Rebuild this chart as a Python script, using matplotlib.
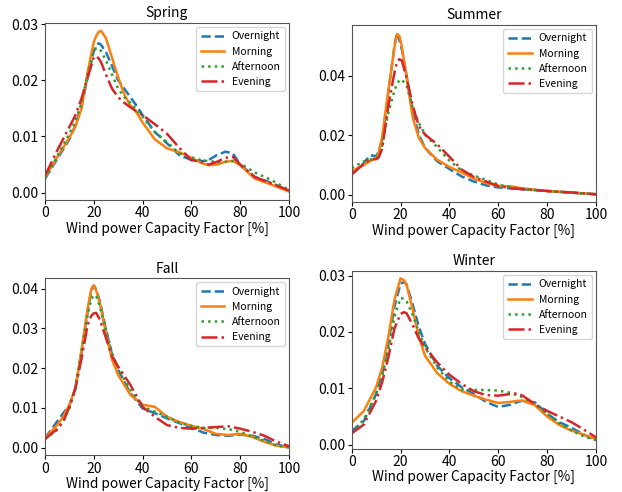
import matplotlib
matplotlib.use("Agg")
import matplotlib.pyplot as plt

plt.rcParams['font.family'] = ['Noto Sans CJK KR', 'DejaVu Sans']

# Densités par saison : facteur de capacité éolien (%) -> densité
labels = ["Overnight", "Morning", "Afternoon", "Evening"]

cf_spring = [0, 5, 10, 12.5, 15, 17.5, 20, 21, 22, 23, 25, 27.5, 30, 32.5, 35, 37.5,
             40, 45, 50, 55, 60, 64, 67, 70.5, 74, 77, 80, 86, 93, 100]
spring_overnight = [0.0025, 0.006, 0.0095, 0.012, 0.0155, 0.0205, 0.0252, 0.0261, 0.0266, 0.0263,
                    0.025, 0.0225, 0.020, 0.0185, 0.017, 0.0155, 0.0138, 0.0108, 0.0088, 0.0067,
                    0.0058, 0.0056, 0.0058, 0.0067, 0.0073, 0.007, 0.005, 0.0028, 0.0017, 0.0003]
spring_morning = [0.0027, 0.0063, 0.0098, 0.0118, 0.015, 0.0215, 0.0268, 0.0279, 0.0286, 0.0288,
                  0.0275, 0.024, 0.0205, 0.0175, 0.0155, 0.0143, 0.0125, 0.0095, 0.0079, 0.0072,
                  0.0062, 0.0053, 0.0049, 0.005, 0.0055, 0.0057, 0.0049, 0.0025, 0.0014, 0.0002]
spring_afternoon = [0.0025, 0.0065, 0.0105, 0.0128, 0.016, 0.021, 0.0252, 0.0257, 0.0257, 0.0252,
                    0.0235, 0.021, 0.0185, 0.017, 0.016, 0.0148, 0.0135, 0.0108, 0.009, 0.007,
                    0.0063, 0.0058, 0.0056, 0.0055, 0.0055, 0.0056, 0.0052, 0.0036, 0.0022, 0.0005]
spring_evening = [0.003, 0.0075, 0.0117, 0.0138, 0.0168, 0.0205, 0.0241, 0.0243, 0.0239, 0.0232,
                  0.021, 0.0185, 0.017, 0.016, 0.0152, 0.0145, 0.0138, 0.0122, 0.0105, 0.008,
                  0.0058, 0.0055, 0.005, 0.0055, 0.0062, 0.0064, 0.005, 0.0028, 0.0016, 0.0004]

cf_summer = [0, 5, 7.5, 10, 11, 12.5, 13.6, 15, 17.5, 18.5, 19.5, 20.5, 22.5, 25, 27.5, 30,
             35, 40, 45, 50, 55, 60, 65, 70, 80, 90, 100]
summer_overnight = [0.0073, 0.0107, 0.0133, 0.013, 0.0145, 0.0185, 0.0254, 0.0344, 0.050, 0.0546,
                    0.052, 0.049, 0.040, 0.0276, 0.0203, 0.0158, 0.0113, 0.0087, 0.0062, 0.0045,
                    0.0032, 0.0025, 0.0022, 0.0019, 0.0013, 0.0007, 0.0002]
summer_morning = [0.0079, 0.0101, 0.0113, 0.0124, 0.014, 0.0195, 0.0265, 0.035, 0.0496, 0.054,
                  0.0535, 0.050, 0.0394, 0.0259, 0.0192, 0.0158, 0.0118, 0.0094, 0.0075, 0.0055,
                  0.004, 0.003, 0.0029, 0.0022, 0.0013, 0.0008, 0.0002]
summer_afternoon = [0.009, 0.0113, 0.0118, 0.0124, 0.013, 0.0165, 0.022, 0.0276, 0.035, 0.0372,
                    0.0385, 0.0388, 0.0366, 0.0293, 0.0242, 0.0203, 0.016, 0.0115, 0.0082, 0.0065,
                    0.005, 0.0035, 0.0025, 0.002, 0.0013, 0.0008, 0.0002]
summer_evening = [0.0068, 0.0105, 0.012, 0.012, 0.0125, 0.0155, 0.022, 0.0299, 0.0411, 0.0445,
                  0.0456, 0.0452, 0.0394, 0.0299, 0.0231, 0.0203, 0.017, 0.0128, 0.0085, 0.006,
                  0.0045, 0.003, 0.0022, 0.0019, 0.0013, 0.0008, 0.0002]

cf_fall = [0, 5, 7.5, 10, 12.5, 15, 17.5, 19, 20, 21, 22.5, 25, 27.5, 30, 35, 40, 45, 50,
           55, 60, 65, 70, 75, 80, 85, 90, 95, 100]
fall_overnight = [0.0024, 0.0066, 0.0087, 0.0106, 0.015, 0.0242, 0.0343, 0.0395, 0.0408, 0.0398,
                  0.0368, 0.0297, 0.0234, 0.0196, 0.0137, 0.0099, 0.0087, 0.0074, 0.0062, 0.005,
                  0.0038, 0.0032, 0.003, 0.0033, 0.003, 0.0022, 0.0008, 0.0001]
fall_morning = [0.0024, 0.0057, 0.0078, 0.0108, 0.015, 0.0246, 0.0351, 0.040, 0.0408, 0.0395,
                0.0364, 0.0288, 0.0221, 0.0183, 0.0133, 0.0108, 0.0103, 0.0078, 0.0065, 0.0055,
                0.0047, 0.0035, 0.0032, 0.0035, 0.0027, 0.0015, 0.0005, 0.0001]
fall_afternoon = [0.0022, 0.0045, 0.0066, 0.0099, 0.015, 0.0242, 0.0334, 0.0375, 0.0383, 0.0382,
                  0.0355, 0.0297, 0.0238, 0.020, 0.0145, 0.0103, 0.0091, 0.0078, 0.0063, 0.0055,
                  0.005, 0.005, 0.0047, 0.004, 0.0028, 0.0017, 0.0005, 0.0001]
fall_evening = [0.0022, 0.0047, 0.0066, 0.0103, 0.015, 0.0225, 0.0309, 0.0332, 0.0338, 0.0339,
                0.0322, 0.0276, 0.0229, 0.0204, 0.0158, 0.0103, 0.0078, 0.0057, 0.005, 0.0048,
                0.005, 0.0052, 0.0054, 0.0048, 0.004, 0.003, 0.0015, 0.0004]

cf_winter = [0, 5, 10, 12.5, 15, 17.5, 20, 21.5, 22.5, 25, 27.5, 30, 35, 40, 45, 50, 55, 60,
             65, 68, 70, 75, 80, 85, 90, 95, 100]
winter_overnight = [0.0024, 0.0042, 0.009, 0.0126, 0.0179, 0.0245, 0.0286, 0.0288, 0.0284, 0.0248,
                    0.0209, 0.0179, 0.014, 0.0118, 0.0102, 0.009, 0.0076, 0.0067, 0.0071, 0.0076,
                    0.0078, 0.0075, 0.0055, 0.004, 0.003, 0.0018, 0.0008]
winter_morning = [0.0039, 0.006, 0.0102, 0.0137, 0.0191, 0.0257, 0.0295, 0.0291, 0.0283, 0.0239,
                  0.0191, 0.0158, 0.0127, 0.0108, 0.0095, 0.0087, 0.008, 0.0074, 0.0076, 0.0078,
                  0.0078, 0.007, 0.005, 0.0035, 0.0025, 0.0018, 0.001]
winter_afternoon = [0.0022, 0.0045, 0.009, 0.0123, 0.0167, 0.0227, 0.026, 0.0259, 0.0254, 0.023,
                    0.020, 0.0173, 0.0137, 0.0112, 0.0098, 0.0097, 0.0097, 0.0096, 0.0092, 0.0087,
                    0.0084, 0.0072, 0.0055, 0.0038, 0.0025, 0.0015, 0.0008]
winter_evening = [0.002, 0.0036, 0.0078, 0.0111, 0.0155, 0.0206, 0.0232, 0.0235, 0.0233, 0.0212,
                  0.0188, 0.0173, 0.0146, 0.0124, 0.0108, 0.0095, 0.0088, 0.0087, 0.009, 0.0091,
                  0.0087, 0.0072, 0.006, 0.005, 0.004, 0.0027, 0.0013]

# style des courbes (même ordre que labels)
styles = [("#1f77b4", "--"), ("#ff7f0e", "-"), ("#2ca02c", ":"), ("#d62728", "-.")]

saisons = [
    ("Spring", cf_spring, [spring_overnight, spring_morning, spring_afternoon, spring_evening],
     [0.0723, 0.5935, 0.3923, 0.3598], (-0.0013, 0.0302), [0, 0.01, 0.02, 0.03]),
    ("Summer", cf_summer, [summer_overnight, summer_morning, summer_afternoon, summer_evening],
     [0.5654, 0.5894, 0.3928, 0.3598], (-0.0024, 0.0571), [0, 0.02, 0.04]),
    ("Fall", cf_fall, [fall_overnight, fall_morning, fall_afternoon, fall_evening],
     [0.0723, 0.0746, 0.3923, 0.3597], (-0.0019, 0.0426), [0, 0.01, 0.02, 0.03, 0.04]),
    ("Winter", cf_winter, [winter_overnight, winter_morning, winter_afternoon, winter_evening],
     [0.5654, 0.0880, 0.3928, 0.3612], (-0.0007, 0.0308), [0, 0.01, 0.02, 0.03]),
]

fig = plt.figure(figsize=(6.22, 4.92), dpi=100)

for titre, x, series, pos, ylim, yticks in saisons:
    ax = fig.add_axes(pos)
    for y, lab, (c, ls) in zip(series, labels, styles):
        ax.plot(x, y, color=c, linestyle=ls, linewidth=1.8, label=lab)
    ax.set_xlim(0, 100)
    ax.set_ylim(*ylim)
    ax.set_xticks([0, 20, 40, 60, 80, 100])
    ax.set_yticks(yticks)
    ax.set_yticklabels(["%.2f" % v for v in yticks])
    ax.tick_params(labelsize=10, length=3)
    ax.tick_params(axis="x", pad=1.5)
    ax.tick_params(axis="y", pad=1.5)
    for sp in ax.spines.values():
        sp.set_color("#555555")
    ax.set_title(titre, fontsize=10, pad=4)
    ax.set_xlabel("Wind power Capacity Factor [%]", fontsize=9.8, labelpad=1)
    ax.legend(loc="upper right", fontsize=7.5, handlelength=2.3, labelspacing=0.5,
              handletextpad=0.7, borderaxespad=0.4)

fig.savefig("out.png", dpi=100)
